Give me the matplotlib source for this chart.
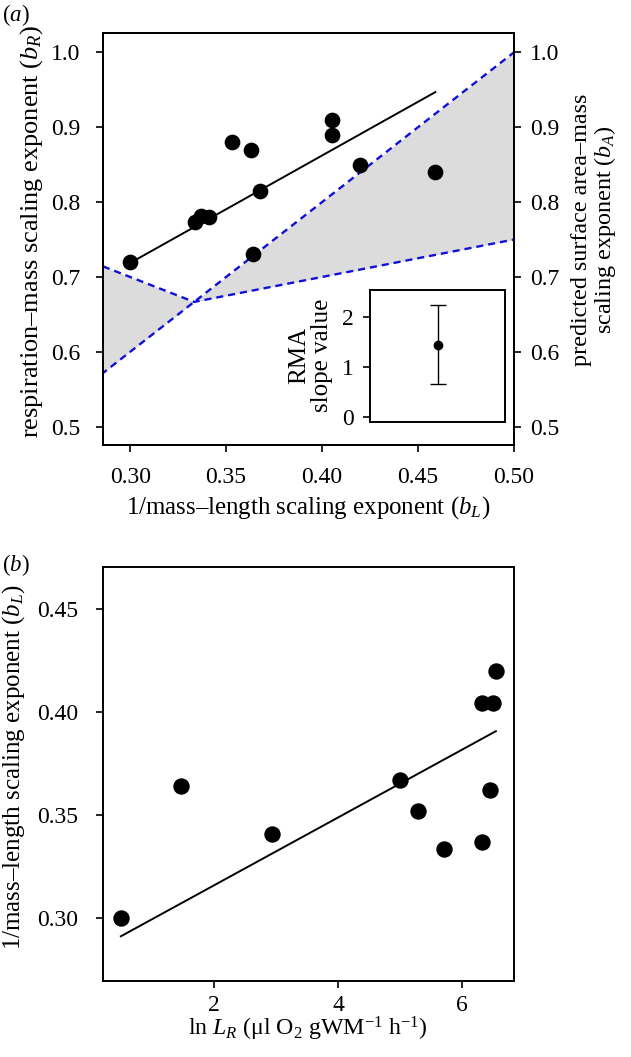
import matplotlib
matplotlib.use("Agg")
import matplotlib.pyplot as plt
import numpy as np

plt.rcParams['font.family'] = ['Liberation Serif', 'DejaVu Serif']
plt.rcParams['mathtext.fontset'] = 'custom'
plt.rcParams['mathtext.rm'] = 'Liberation Serif'
plt.rcParams['mathtext.it'] = 'Liberation Serif:italic'

# ---------------- data ----------------
# panel (a): 1/mass-length exponent vs respiration-mass exponent
bL_a = [0.300, 0.334, 0.337, 0.341, 0.353, 0.363, 0.3675, 0.364, 0.405, 0.405, 0.420, 0.459]
bR_a = [0.720, 0.773, 0.782, 0.780, 0.880, 0.870, 0.815, 0.731, 0.910, 0.890, 0.850, 0.840]
fit_a_intercept = 0.2882
fit_a_slope = 1.435

# theoretical surface-area exponent envelope (nodes)
theory_bL = [0.28, 1/3, 0.50]
theory_bA_flat = [0.56, 2/3, 1.00]     # one boundary line
theory_bA_other = [0.72, 2/3, 0.75]    # second boundary

# inset: RMA slope and its confidence interval
rma_slope = 1.44
rma_lo = 0.656
rma_hi = 2.233

# panel (b): ln L_R vs b_L
lnLR_b = [0.50, 1.47, 2.94, 4.99, 5.28, 5.70, 6.31, 6.45, 6.31, 6.50, 6.54]
bL_b = [0.300, 0.364, 0.341, 0.367, 0.352, 0.3335, 0.337, 0.362, 0.4045, 0.4045, 0.420]
fit_b_intercept = 0.2830
fit_b_slope = 0.01647

W, H = 631, 1057
fig = plt.figure(figsize=(W / 100, H / 100), dpi=100)

def fx(px):
    return px / W

def fy(py):
    return 1 - py / H

TFS = 17
blue = '#1010d8'
grey = '#dcdcdc'

def style(ax):
    for s in ax.spines.values():
        s.set_linewidth(1.4)
    ax.tick_params(direction='out', length=5, width=1.2, labelsize=TFS)

# ---------------- panel (a) ----------------
ax = fig.add_axes([fx(102.7), fy(445), fx(514 - 102.7), (445 - 33.3) / H])
xl = (0.2857, 0.5)
yl = (0.4756, 1.0254)
tx = np.array(theory_bL)
t1 = np.array(theory_bA_flat)
t2 = np.array(theory_bA_other)
ax.fill_between(tx, np.minimum(t1, t2), np.maximum(t1, t2), color=grey, lw=0, zorder=1)
ax.plot(tx, t1, color=blue, lw=1.7, dashes=(3, 2.1), zorder=2)
ax.plot(tx, t2, color=blue, lw=1.7, dashes=(3, 2.1), zorder=2)
xs = np.array([min(bL_a), max(bL_a)])
ax.plot(xs, fit_a_intercept + fit_a_slope * xs, color='black', lw=1.4, zorder=3)
ax.plot(bL_a, bR_a, 'o', color='black', ms=10.3, zorder=4)
ax.set_xlim(*xl)
ax.set_ylim(*yl)
ax.set_xticks([0.30, 0.35, 0.40, 0.45, 0.50])
ax.set_xticklabels(['0.30', '0.35', '0.40', '0.45', '0.50'])
ax.set_yticks([0.5, 0.6, 0.7, 0.8, 0.9, 1.0])
ax.set_yticklabels(['0.5', '0.6', '0.7', '0.8', '0.9', '1.0'])
style(ax)
ax.tick_params(axis='y', pad=11.3)
ax.tick_params(axis='x', pad=10.5)
ax2 = ax.twinx()
ax2.set_ylim(*yl)
ax2.set_yticks([0.5, 0.6, 0.7, 0.8, 0.9, 1.0])
ax2.set_yticklabels(['0.5', '0.6', '0.7', '0.8', '0.9', '1.0'])
style(ax2)
ax2.tick_params(axis='y', pad=6.5)

fig.text(fx(32), fy(231), r'respiration–mass scaling exponent ($b_R$)', rotation=90,
         ha='center', va='center', fontsize=19)
fig.text(fx(595), fy(230), 'predicted surface area–mass\n' + r'scaling exponent ($b_A$)',
         rotation=90, ha='center', va='center', multialignment='center',
         fontsize=17.4, linespacing=1.0)
fig.text(fx(308), fy(508), r'1/mass–length scaling exponent ($b_L$)',
         ha='center', va='center', fontsize=17.9)
fig.text(fx(2), fy(2), r'($a$)', ha='left', va='top', fontsize=16.5)

# inset
axi = fig.add_axes([fx(370), fy(421.7), fx(505 - 370), (421.7 - 290) / H])
axi.errorbar([1], [rma_slope], yerr=[[rma_slope - rma_lo], [rma_hi - rma_slope]],
             fmt='o', color='black', ms=6, elinewidth=1.0, capsize=5.5, capthick=1.0)
axi.set_xlim(0, 2)
axi.set_ylim(-0.087, 2.53)
axi.set_xticks([])
axi.set_yticks([0, 1, 2])
style(axi)
axi.tick_params(axis='y', pad=6.5)
fig.text(fx(311), fy(355), 'RMA\nslope value', rotation=90, ha='center', va='center',
         multialignment='center', fontsize=18, linespacing=1.05)

# ---------------- panel (b) ----------------
bx = fig.add_axes([fx(102.7), fy(980.7), fx(514.3 - 102.7), (980.7 - 567.3) / H])
xs = np.array([min(lnLR_b), max(lnLR_b)])
bx.plot(xs, fit_b_intercept + fit_b_slope * xs, color='black', lw=1.4, zorder=3)
bx.plot(lnLR_b, bL_b, 'o', color='black', ms=10.8, zorder=4)
bx.set_xlim(0.208, 6.837)
bx.set_ylim(0.2697, 0.4702)
bx.set_xticks([2, 4, 6])
bx.set_yticks([0.30, 0.35, 0.40, 0.45])
bx.set_yticklabels(['0.30', '0.35', '0.40', '0.45'])
style(bx)
bx.tick_params(axis='y', pad=12.5)
bx.tick_params(axis='x', pad=5.5)
fig.text(fx(14), fy(767), r'1/mass–length scaling exponent ($b_L$)', rotation=90,
         ha='center', va='center', fontsize=18)
fig.text(fx(307.5), fy(1029), r'ln $L_R$ (μl O$_2$ gWM$^{-1}$ h$^{-1}$)',
         ha='center', va='center', fontsize=17.2)
fig.text(fx(2), fy(552), r'($b$)', ha='left', va='top', fontsize=16.5)

fig.savefig('out.png', dpi=100)
